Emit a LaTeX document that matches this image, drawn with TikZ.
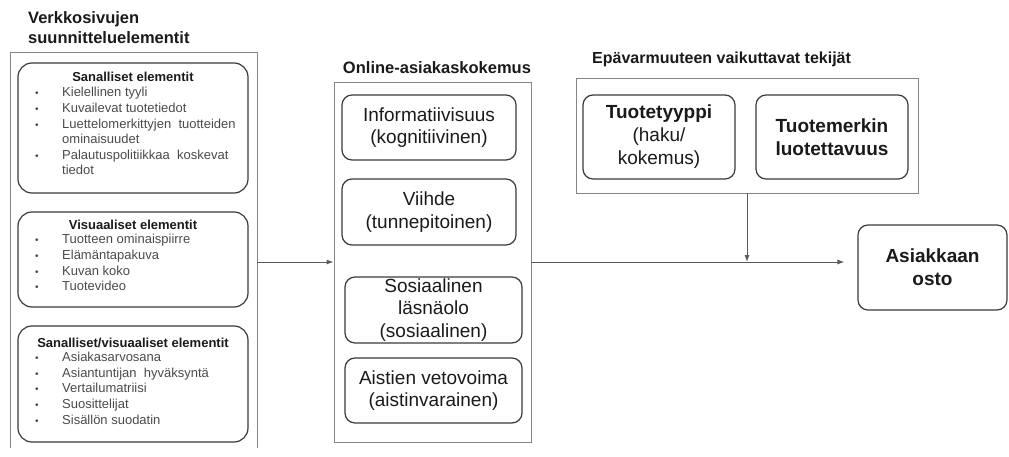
\documentclass[tikz,border=0pt]{standalone}
\usepackage{fontspec}
\setmainfont{Liberation Sans}
\usetikzlibrary{arrows.meta}
\definecolor{outerc}{HTML}{858585}
\definecolor{innerc}{HTML}{3A3A3A}
\definecolor{txtc}{HTML}{1A1A1A}
\definecolor{itemc}{HTML}{4A4A4A}
\definecolor{connc}{HTML}{5A5A5A}
\begin{document}
\begin{tikzpicture}[x=1pt,y=-1pt,
  outerbox/.style={draw=outerc, line width=0.9pt, rectangle, inner sep=0pt},
  groupbox/.style={draw=innerc, line width=1.2pt, rounded corners=14pt, inner sep=0pt, minimum width=230pt},
  cbox/.style={draw=innerc, line width=1.2pt, rounded corners=10pt, inner sep=0pt, align=center, text=txtc,
               font=\fontsize{19}{22.5}\selectfont},
  boldbox/.style={cbox, font=\fontsize{19}{23}\selectfont\bfseries},
  heading/.style={inner sep=0pt, text=txtc, font=\fontsize{16.5}{20}\selectfont\bfseries},
  grouptitle/.style={inner sep=0pt, anchor=base, text=txtc, font=\fontsize{13}{15}\selectfont\bfseries},
  itm/.style={inner sep=0pt, anchor=base west, text=itemc, font=\fontsize{13}{15}\selectfont},
  bul/.style={inner sep=0pt, anchor=base, text=itemc, font=\fontsize{10}{12}\selectfont},
  conn/.style={draw=connc, line width=0.9pt, -{Latex[length=7pt,width=5pt]}}
]
\useasboundingbox (0,0) rectangle (1009,457);
\newcommand\blt[3]{\node[bul] (#1b) at (37,#2) {•}; \node[itm] (#1) at (62,#2) {#3};}

% ---------- left column ----------
\node[heading, anchor=base west] (lefttitle1) at (28,24) {Verkkosivujen};
\node[heading, anchor=base west] (lefttitle2) at (28,44) {suunnitteluelementit};
\node[draw=none, inner sep=0pt, minimum width=246pt, minimum height=395pt] (leftbox) at (134,250.5) {};
\draw[draw=outerc, line width=0.9pt] (leftbox.south west) -- (leftbox.north west) -- (leftbox.north east) -- (leftbox.south east);

\node[groupbox, minimum height=130pt] (g1) at (133,128) {};
\node[grouptitle] (g1t) at (133,81.5) {Sanalliset elementit};
\blt{g1a}{96.5}{Kielellinen tyyli}
\blt{g1c}{112.5}{Kuvailevat tuotetiedot}
\blt{g1d}{128.5}{Luettelomerkittyjen\ \ tuotteiden}
\node[itm] (g1e) at (62,143.5) {ominaisuudet};
\blt{g1f}{159.5}{Palautuspolitiikkaa\ \ koskevat}
\node[itm] (g1g) at (62,174.5) {tiedot};

\node[groupbox, minimum height=95pt] (g2) at (133,259.5) {};
\node[grouptitle] (g2t) at (133,229.5) {Visuaaliset elementit};
\blt{g2a}{243.5}{Tuotteen ominaispiirre}
\blt{g2b}{259.5}{Elämäntapakuva}
\blt{g2c}{275.5}{Kuvan koko}
\blt{g2d}{290.5}{Tuotevideo}

\node[groupbox, minimum height=116pt] (g3) at (133,384) {};
\node[grouptitle] (g3t) at (133,347.5) {Sanalliset/visuaaliset elementit};
\blt{g3a}{361.5}{Asiakasarvosana}
\blt{g3b}{377.5}{Asiantuntijan\ \ hyväksyntä}
\blt{g3c}{392.5}{Vertailumatriisi}
\blt{g3d}{408.5}{Suosittelijat}
\blt{g3e}{424.5}{Sisällön suodatin}

% ---------- middle column ----------
\node[heading, anchor=base] (midtitle) at (437,74) {Online-asiakaskokemus};
\node[outerbox, minimum width=197pt, minimum height=360pt] (mid) at (432.5,262) {};
\node[cbox, minimum width=174pt, minimum height=65pt] (info) at (429,127.5) {Informatiivisuus\\(kognitiivinen)};
\node[cbox, minimum width=174pt, minimum height=66pt] (viihde) at (429,212) {Viihde\\(tunnepitoinen)};
\node[cbox, minimum width=177pt, minimum height=66pt] (sos) at (433.5,310) {Sosiaalinen\\läsnäolo\\(sosiaalinen)};
\node[cbox, minimum width=177pt, minimum height=65pt] (aist) at (433.5,390.5) {Aistien vetovoima\\(aistinvarainen)};

% ---------- top right ----------
\node[heading, anchor=base west, font=\fontsize{16}{20}\selectfont\bfseries] (unctitle) at (592,63.5) {Epävarmuuteen vaikuttavat tekijät};
\node[outerbox, minimum width=342pt, minimum height=115pt] (unc) at (747,135.5) {};
\node[cbox, font=\fontsize{19}{23}\selectfont, minimum width=152pt, minimum height=84pt] (type) at (659,137) {\textbf{Tuotetyyppi}\\(haku/\\kokemus)};
\node[boldbox, minimum width=152pt, minimum height=84pt] (brand) at (832,137) {Tuotemerkin\\luotettavuus};

% ---------- outcome ----------
\node[boldbox, minimum width=149pt, minimum height=85pt] (buy) at (932.5,267.5) {Asiakkaan\\osto};

% ---------- connectors ----------
\draw[conn] (leftbox.east |- mid.west) -- (mid.west);
\draw[conn, shorten >=13pt] (mid.east) -- (mid.east -| buy.west);
\draw[conn] (unc.south) -- (unc.south |- mid.east);
\end{tikzpicture}
\end{document}
